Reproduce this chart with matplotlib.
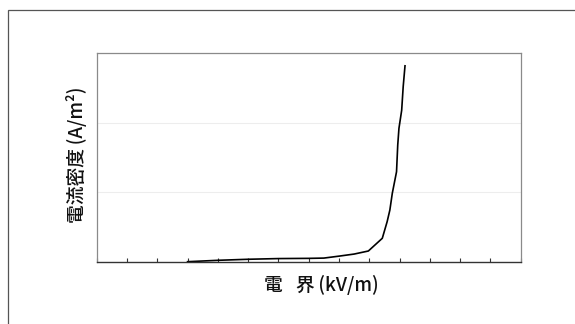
import matplotlib
matplotlib.use("Agg")
import matplotlib.pyplot as plt
from matplotlib.patches import Rectangle

plt.rcParams['font.family'] = ['Noto Sans CJK JP', 'DejaVu Sans']

# Data (arbitrary units; axes have no tick labels)
field = [3.0, 4.0, 5.0, 6.0, 7.0, 7.5, 8.0, 8.5, 8.97, 9.43, 9.59, 9.68,
         9.76, 9.90, 9.94, 9.98, 10.07, 10.12, 10.18]
current = [0.0, 0.02, 0.035, 0.045, 0.048, 0.052, 0.08, 0.11, 0.154, 0.337,
           0.576, 0.744, 0.984, 1.295, 1.68, 1.92, 2.18, 2.52, 2.82]
x_ticks = list(range(0, 15))
y_grid = [1, 2, 3]
xlabel = "電\u2002\u2009界\u2009(kV/m)"
ylabel = "電流密度\u2009(A/m²)"

W, H = 575, 324
fig = plt.figure(figsize=(W / 100, H / 100), dpi=100)

# outer frame (clipped on right/bottom)
fig.patches.append(Rectangle((8 / W, -0.2), 1.2, 1 - 10 / H + 0.2,
                             transform=fig.transFigure, fill=False,
                             edgecolor='#555555', linewidth=0.9))

ax = fig.add_axes([96.7 / W, 1 - 261.7 / H, (520.7 - 96.7) / W, (261.7 - 53.3) / H])
ax.plot(field, current, color='black', linewidth=1.2)
ax.set_xlim(0, 14)
ax.set_ylim(0, 3)
ax.set_xticks(x_ticks)
ax.set_xticklabels([])
ax.set_yticks(y_grid)
ax.set_yticklabels([])
ax.tick_params(axis='x', direction='in', length=3, width=0.8, color='#333333')
ax.tick_params(axis='y', length=0)
ax.grid(axis='y', color='#ededed', linewidth=0.8)
for s in ['left', 'top', 'right']:
    ax.spines[s].set_color('#8a8a8a')
    ax.spines[s].set_linewidth(0.9)
ax.spines['bottom'].set_color('#333333')
ax.spines['bottom'].set_linewidth(1.0)

fig.text(321.5 / W, 1 - 285 / H, xlabel, ha='center', va='center', fontsize=13.5,
         fontweight='medium', color='#111111')
fig.text(76.5 / W, 1 - 155 / H, ylabel, ha='center', va='center', fontsize=13.5,
         fontweight='medium', rotation=90, color='#111111')

fig.savefig("out.png", dpi=100)
